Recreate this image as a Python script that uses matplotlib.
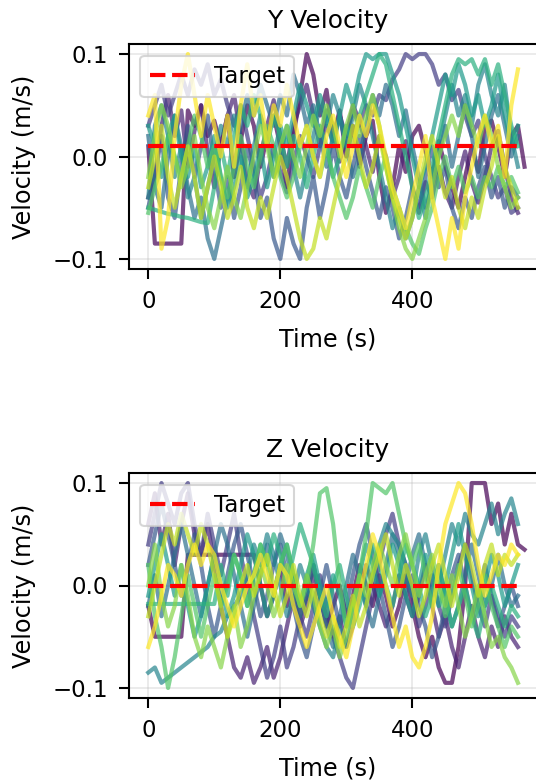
import numpy as np
import matplotlib
matplotlib.use("Agg")
import matplotlib.pyplot as plt

# ---------------- data (velocity values in mm/s, converted to m/s) -------------
TIME = list(range(0, 580, 10))  # sampling times (s)

Y_TARGET = 0.01
Z_TARGET = 0.0
TARGET_T = [0, 560]

Y0 = [10, -85, -85, -85, -85, -85, 45, 30, 50, 20, 35, 10, 40, -20, 15, 50, 30, -10, 20, 40, 10, -30, 20, 60, 100, 80, 40, 65, 20, 45, 0, 30, -10, 20, 35, -20, -55, -30, 10, -15, 20, 30, 5, -20, 15, -10, -30, -50, -20, 10, -15, 30, 35, 10, -20, 20, 30, -10]
Y1 = [-40, -20, 30, 60, 20, 45, -10, 25, 50, 5, -30, 10, 40, 60, 20, -25, -40, 0, 30, 55, 20, -10, 30, 50, 70, 40, 10, 45, 30, -5, 20, 50, 35, 10, -15, 20, 0, -40, -20, 15, -30, -55, -25, -40, -10, -35, -50, -20, 5, -25, -45, -20, 10, 25, -10, -40, -55]
Y2 = [30, 50, 70, 40, 60, 80, 60, 85, 70, 90, 60, 75, 50, 30, 50, 20, -10, -40, -20, 10, -15, -35, -5, 20, 0, -20, 10, 30, 15, 40, 20, 45, 30, 50, 40, 60, 55, 75, 85, 100, 95, 100, 100, 90, 70, 80, 55, 65, 40, 20, 35, 0, -20, -40, -30, -55, -50]
Y3 = [-50, -20, 20, -40, -60, -10, 30, -20, 10, 40, -10, -50, -20, -60, -30, 10, -20, -60, -40, -80, -100, -60, -85, -100, -50, -20, -60, -30, 10, -20, -40, -10, 20, -10, -35, -60, -30, -50, -80, -60, -30, -50, -20, 10, -30, -10, -50, -70, -40, -60, -30, -10, -40, -20, -50, -30, -40]
Y4 = [20, -30, -50, 0, 40, 10, -30, -60, -40, -80, -100, -70, -40, -10, 30, 60, 40, 70, 50, 30, 60, 40, 80, 60, 30, 50, 20, -10, 20, 40, 10, -20, 0, 30, 60, 40, 70, 50, 20, 45, 10, -20, -50, -30, 0, 30, -10, 20, 50, 20, -20, 10, 40, 60, 30, 0, 20]
Y5 = [-40, 30, 50, 20, -20, 10, -40, -20, -60, -30, 0, 30, 10, 40, 0, -30, 10, 40, 20, -20, 0, 30, -10, -40, -10, 20, 50, 30, 60, 40, 10, 40, 70, 50, 20, -10, -40, -70, -50, -80, -60, -30, -60, -20, 10, 40, 70, 40, 60, 30, 70, 90, 60, 40, 70, 20, -10]
Y6 = [30, 10, -20, 20, 40, 0, -20, 10, -30, -10, 20, -20, -50, -30, 0, -40, -20, 10, -30, 0, 30, 10, 40, 70, 50, 30, 60, 40, 10, 40, 70, 50, 80, 100, 95, 100, 100, 80, 60, 30, 0, -30, -10, 20, 50, 80, 60, 90, 70, 40, 60, 30, 50, 80, 40, 10, 30]
Y7 = [-50, -52, -54, -56, -57, -59, -60, -62, -64, -65, -30, 10, -20, 20, 50, 30, 60, 40, 10, 40, 20, -10, 20, 0, -30, 0, 30, 10, -20, 0, 30, 10, 40, 60, 80, 100, 90, 60, 30, 0, -30, -60, -40, -10, 20, 50, 80, 95, 90, 95, 80, 95, 70, 90, 60, 30, 10]
Y8 = [-55, -30, -10, 20, 0, -20, 10, 40, 20, -10, 10, -20, -40, -10, 20, -10, -30, 0, 30, 10, -20, -40, -20, 10, 30, 0, -20, 10, -20, -40, -60, -40, -10, -30, -50, -20, 0, -30, -50, -70, -85, -95, -70, -50, -20, 0, -30, -10, -35, -20, -40, -20, -30, -10, -30, -20, -35]
Y9 = [-20, 20, 50, 30, 0, -30, -10, 20, -20, -50, -70, -40, -10, -40, -60, -30, 0, 30, 10, -20, 10, 30, 0, -20, 10, 40, 20, 50, 30, 0, 30, 50, 20, 40, 60, 30, -10, -40, -70, -90, -100, -80, -60, -30, 0, 20, 40, 20, 50, 30, 10, 40, 20, -10, -30, -50, -40]
Y10 = [-30, 0, 30, -20, -50, -20, 10, -20, -60, -30, 0, -30, -60, -40, -10, -50, -70, -40, -60, -30, 0, -20, -50, -80, -100, -90, -60, -80, -50, -20, 0, 30, 0, -30, -10, 20, -10, -40, -60, -80, -60, -30, 0, 20, -10, -40, -20, -50, -70, -40, -60, -30, -10, 20, -10, -30, -50]
Y11 = [40, 60, -90, -60, 20, 70, 100, 60, 20, 60, 30, 0, 40, -10, 50, 90, 40, 60, 10, 50, 30, 70, 40, 10, 30, 0, -20, 20, 40, 10, -20, 10, 40, 20, 50, 30, 0, -30, -50, -70, -40, -10, 20, -40, -70, -100, -60, -90, -40, -10, 20, 40, 10, 30, -20, 50, 85]

Z0 = [-20, -50, -50, -50, -50, -50, 30, 30, 30, 30, 30, 30, 30, 30, 30, 30, 30, 0, -30, -10, 20, -20, 10, -30, -10, 20, -10, -40, -20, 0, -30, -10, 20, 0, -20, 10, -10, -40, -20, 10, -20, -50, -70, -50, -80, -95, -95, -60, 0, 100, 100, 100, 60, 80, 40, 70, 40, 35]
Z1 = [60, 90, 40, 70, 20, 60, 90, 50, 30, 60, 20, -20, -50, -80, -90, -70, -95, -80, -60, -90, -70, -40, -10, -40, -20, 10, -10, -30, -50, -30, -60, -40, -10, 20, 0, -20, -40, -20, 10, -10, -30, -10, 20, -20, -50, -30, -60, -80, -50, -20, -50, -70, -40, -60, -30, -50, -60]
Z2 = [40, 70, 100, 80, 60, 90, 100, 60, 30, 70, 40, 10, 40, 70, 30, 0, -30, -60, -90, -70, -40, -80, -60, -30, -50, -20, 10, -20, -50, -70, -90, -100, -70, -40, -10, 20, 50, 70, 40, 20, -10, -40, -20, 10, -20, -40, -10, 20, 40, 10, -20, -40, -10, -30, -50, -30, -40]
Z3 = [20, 50, 80, 50, 20, -10, 20, 50, 20, -20, -50, -20, 10, 40, 60, 30, 0, -30, -10, 20, 40, 10, -20, -50, -70, -40, -10, 20, -10, -40, -20, 10, 40, 60, 30, 0, -30, -60, -40, -10, 10, -20, -40, -70, -50, -20, 10, 30, 0, -30, -10, 20, -10, -40, -20, 0, -20]
Z4 = [-20, 10, -30, 0, 30, 60, 30, 0, -30, 0, 30, 60, 40, 10, -20, -50, -20, 10, 40, 20, 50, 30, 0, -30, -10, 20, -10, -40, -60, -30, 0, 30, 10, -20, -40, -10, 20, 50, 30, 0, 30, 50, 20, -10, 20, -10, -40, -20, 10, 40, 10, -20, 0, 30, 0, -20, -10]
Z5 = [-85, -80, -95, -90, -85, -80, -75, -70, -65, -60, -50, -45, -30, -20, -10, 10, 40, 20, 50, 30, 0, -30, -10, 20, 0, -20, -40, -60, -70, -40, -60, -30, 0, -20, 10, 40, 60, 50, 40, 20, -10, 30, 50, 20, 0, 30, 60, 40, 70, 50, 40, 60, 80, 50, 70, 85, 60]
Z6 = [-10, 20, 50, 20, -10, 20, -20, -50, -30, 0, 30, 0, -30, -10, 20, 50, 30, 0, -30, -10, 20, 40, 10, -20, 10, 30, 0, -20, 10, -10, -40, -20, 10, 40, 20, -10, 10, 40, 20, -10, -30, 0, 30, 10, -20, 0, 30, 60, 30, 0, -30, 0, 30, 10, -20, 0, 20]
Z7 = [-18, -18, -18, -18, -18, -18, -18, -18, -18, -18, -18, 20, -10, 30, 10, -20, 10, 40, 20, 50, 30, 0, 30, 60, 40, 20, -10, -30, 0, 20, -10, -40, -20, 10, 40, 20, 0, -20, 10, 40, 20, 0, -30, -10, 20, -10, -40, -20, 0, -30, -50, -20, 0, -20, -40, -20, -30]
Z8 = [20, -30, -60, -100, -70, -30, 10, -20, -50, -20, 10, -20, 0, 30, 10, -20, 10, 40, 20, -10, 20, 40, 10, -20, 0, 40, 90, 95, 60, 0, -40, -20, 10, 50, 100, 95, 90, 100, 70, 40, 20, 40, 10, -20, 0, -30, -10, 20, -10, -40, -20, 10, -20, -40, -60, -40, -50]
Z9 = [0, 40, -10, -40, -20, 20, -10, -50, -70, -40, -60, -80, -50, -20, -60, -40, -10, 20, 0, -30, -10, 20, 0, -20, 10, -10, -40, -60, -40, -70, -50, -20, 10, -10, 20, 40, 20, 0, 30, 50, 20, -10, 10, 30, 0, -20, 10, -20, -50, -30, 0, -30, -60, -50, -70, -80, -95]
Z10 = [-30, 0, 30, 60, 40, 70, 50, 30, 60, 40, 10, -20, -50, -30, 0, 20, -10, 10, 30, 0, -30, -10, 20, -10, -30, 0, -30, -50, -30, -60, -40, -10, -40, -20, 10, 30, 50, 20, -10, 20, 0, -30, -10, 20, 40, 10, -20, 10, 40, 20, -10, 20, 40, 10, 30, 20, 30]
Z11 = [-60, -40, -10, 20, 10, -10, 20, 40, 20, 40, 30, 0, -20, -40, -20, 0, 10, 30, 10, -10, 20, 10, -20, -40, -60, -40, -20, 0, -30, -50, -70, -40, -10, 20, 50, 30, 0, -30, -60, -40, -70, -80, -60, -30, 20, 60, 80, 100, 90, 60, 20, -10, 10, 30, 20, 40, 30]

Y_SERIES = [Y0, Y1, Y2, Y3, Y4, Y5, Y6, Y7, Y8, Y9, Y10, Y11]
Z_SERIES = [Z0, Z1, Z2, Z3, Z4, Z5, Z6, Z7, Z8, Z9, Z10, Z11]

TITLES = ["Y Velocity", "Z Velocity"]
YTICKS = [-0.1, 0.0, 0.1]
XTICKS = [0, 200, 400]

# ---------------- style ----------------
plt.rcParams.update({
    'axes.linewidth': 1.0,
    'xtick.major.size': 5, 'ytick.major.size': 5,
    'xtick.major.width': 1.0, 'ytick.major.width': 1.0,
    'xtick.major.pad': 5, 'ytick.major.pad': 5,
    'xtick.labelsize': 11, 'ytick.labelsize': 11,
})

# ---------------- figure ----------------
W, H, DPI = 536, 781, 150
fig = plt.figure(figsize=(W / DPI, H / DPI), dpi=DPI)

def px_axes(left, top, right, bottom):
    return fig.add_axes([left / W, 1 - bottom / H, (right - left) / W, (bottom - top) / H])

axes = [px_axes(129, 44.3, 545, 268.7), px_axes(129, 473.3, 545, 697.7)]
colors = plt.cm.viridis(np.linspace(0, 1, 12))

for ax, title, series, target in zip(axes, TITLES, [Y_SERIES, Z_SERIES], [Y_TARGET, Z_TARGET]):
    for c, vals in zip(colors, series):
        v = np.array(vals) / 1000.0
        ax.plot(TIME[:len(v)], v, color=c, alpha=0.7, lw=2)
    ax.plot(TARGET_T, [target, target], 'r--', lw=2, label='Target')
    ax.set_xlim(-29.2, 601)
    ax.set_ylim(-0.1095, 0.1095)
    ax.set_xticks(XTICKS)
    ax.set_yticks(YTICKS)
    ax.grid(True, alpha=0.3)
    ax.set_title(title, x=0.478, pad=8, fontsize=12)
    ax.set_xlabel('Time (s)', labelpad=7, fontsize=11.5)
    ax.xaxis.label.set_x(0.478)
    ax.set_ylabel('Velocity (m/s)', labelpad=8, fontsize=11.5)
    ax.legend(loc='upper left', fontsize=11)

fig.savefig('out.png', dpi=DPI)
